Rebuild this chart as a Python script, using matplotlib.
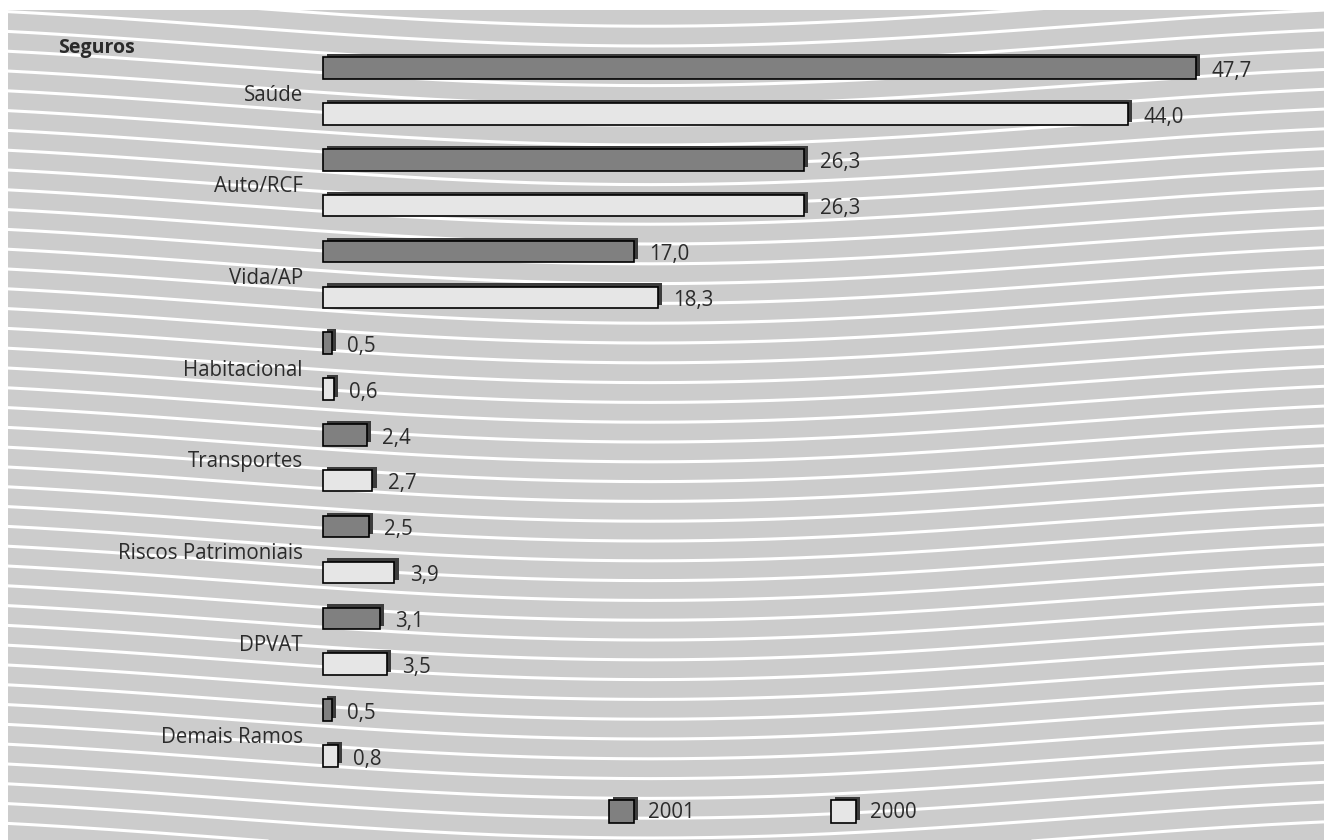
import numpy as np
import matplotlib
matplotlib.use('Agg')
import matplotlib.pyplot as plt
import matplotlib.patheffects as pe
from matplotlib.patches import Rectangle

plt.rcParams['font.family'] = ['Open Sans', 'DejaVu Sans']

# data (percent share per line of business)
categories = ['Saúde', 'Auto/RCF', 'Vida/AP', 'Habitacional', 'Transportes',
              'Riscos Patrimoniais', 'DPVAT', 'Demais Ramos']
values_2001 = [47.7, 26.3, 17.0, 0.5, 2.4, 2.5, 3.1, 0.5]
values_2000 = [44.0, 26.3, 18.3, 0.6, 2.7, 3.9, 3.5, 0.8]
series_names = ['2001', '2000']

W, H = 1324, 840
fig = plt.figure(figsize=(W / 100, H / 100), dpi=100)
fig.patch.set_facecolor('white')

text_color = '#2b2b2b'
dark_fill = '#808080'
light_fill = '#e6e6e6'
fs = 14.8
shadow = [pe.SimplePatchShadow(offset=(3.0, 2.3), shadow_rgbFace='#3c3c3c', alpha=1),
          pe.Normal()]

# --- decorative background: grey panel with wavy white lines (pixel coords)
bg = fig.add_axes([0, 0, 1, 1], zorder=0)
bg.set_xlim(0, W)
bg.set_ylim(H, 0)
bg.axis('off')
panel = Rectangle((8, 10), W - 8, H - 10, facecolor='#cccccc', edgecolor='none')
bg.add_patch(panel)
xs = np.linspace(0, W, 400)
wave = 20 * np.cos(2 * np.pi * (xs - 650) / 1700)
for c in np.arange(-40, H + 60, 19.8):
    ln, = bg.plot(xs, c + 6.6 + wave, color='white', lw=2.2, solid_capstyle='butt')
    ln.set_clip_path(panel)

bg.text(58, 53, 'Seguros', fontsize=14, fontweight='bold', color=text_color,
        va='baseline', ha='left')

# legend drawn by hand to keep the drop-shadow look
for x0, name, fill in [(609, series_names[0], dark_fill), (831, series_names[1], light_fill)]:
    r = Rectangle((x0, 800), 25, 23, facecolor=fill, edgecolor='black', lw=1.2, zorder=3)
    r.set_path_effects(shadow)
    bg.add_patch(r)
    bg.text(x0 + 39, 812, name, fontsize=fs, color=text_color, va='center', ha='left')

# --- bars
ax = fig.add_axes([0, 0, 1, 1], zorder=1)
ax.set_facecolor('none')
ax.axis('off')
px_per_unit = 18.3
ax.set_xlim(-323 / px_per_unit, (W - 323) / px_per_unit)
ax.set_ylim((H - 91) / 91.7, -91 / 91.7)

pos = np.arange(len(categories))
bar_h = 0.235
for vals, offs, fill in [(values_2001, -0.25, dark_fill), (values_2000, 0.25, light_fill)]:
    bars = ax.barh(pos + offs, vals, height=bar_h, color=fill, edgecolor='black',
                   linewidth=1.2, zorder=3)
    for b, v in zip(bars, vals):
        b.set_path_effects(shadow)
        ax.annotate(f'{v:.1f}'.replace('.', ','), xy=(v, b.get_y() + bar_h / 2 + 0.095),
                    xytext=(11, 0), textcoords='offset points', fontsize=fs,
                    color=text_color, va='baseline', ha='left')

for i, cat in enumerate(categories):
    ax.annotate(cat, xy=(0, i + 0.105), xytext=(-14.5, 0), textcoords='offset points',
                fontsize=fs, color=text_color, va='baseline', ha='right')

fig.savefig('out.png', dpi=100)
